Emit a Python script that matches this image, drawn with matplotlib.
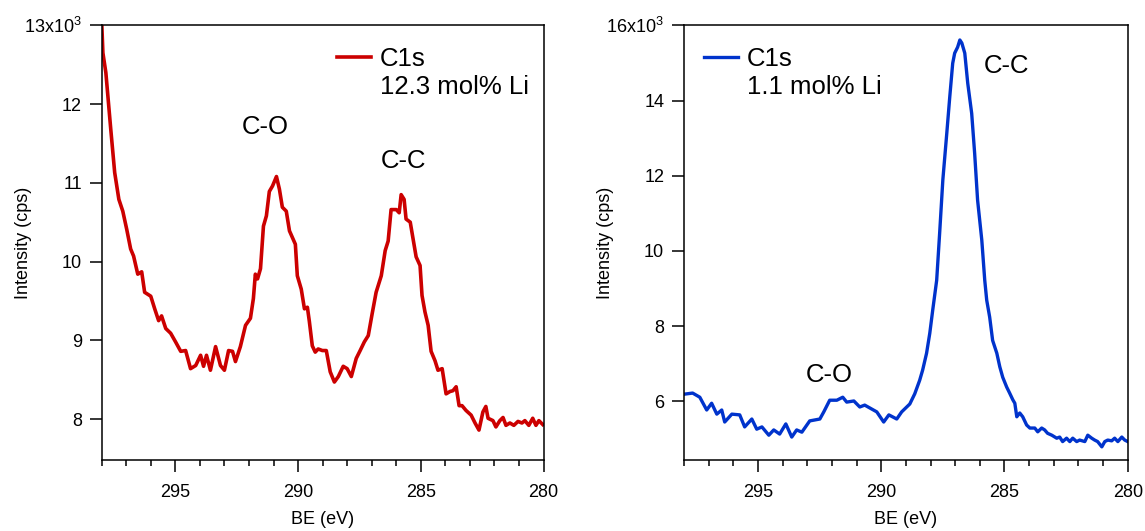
import matplotlib
matplotlib.use("Agg")
import matplotlib.pyplot as plt
from matplotlib.ticker import FixedLocator, FixedFormatter, MultipleLocator

plt.rcParams["font.family"] = ["Liberation Sans", "DejaVu Sans"]
plt.rcParams["mathtext.fontset"] = "custom"
plt.rcParams["mathtext.rm"] = "Liberation Sans"
plt.rcParams["mathtext.it"] = "Liberation Sans"
plt.rcParams["mathtext.bf"] = "Liberation Sans"

# ---- C1s spectrum, 12.3 mol% Li (binding energy in eV, intensity in 10^3 cps)
be_high_li = [
    298.00, 297.95, 297.83, 297.63, 297.47, 297.30, 297.14, 296.98, 296.82, 296.70,
    296.53, 296.37, 296.25, 296.00, 295.84, 295.68, 295.56, 295.39, 295.19, 294.99,
    294.78, 294.58, 294.38, 294.17, 293.97, 293.85, 293.73, 293.57, 293.36, 293.16,
    293.00, 292.83, 292.67, 292.55, 292.35, 292.14, 291.94, 291.82, 291.74, 291.65,
    291.53, 291.41, 291.29, 291.17, 291.04, 290.88, 290.76, 290.64, 290.48, 290.35,
    290.11, 290.03, 289.87, 289.74, 289.62, 289.54, 289.42, 289.30, 289.18, 289.01,
    288.85, 288.69, 288.52, 288.36, 288.16, 288.00, 287.83, 287.63, 287.47, 287.30,
    287.14, 286.98, 286.82, 286.61, 286.45, 286.33, 286.21, 286.00, 285.88, 285.80,
    285.68, 285.60, 285.43, 285.31, 285.19, 285.03, 284.95, 284.83, 284.70, 284.58,
    284.42, 284.30, 284.13, 283.97, 283.81, 283.69, 283.56, 283.44, 283.32, 283.16,
    282.95, 282.79, 282.63, 282.47, 282.35, 282.26, 282.06, 281.94, 281.78, 281.65,
    281.53, 281.37, 281.21, 281.04, 280.88, 280.76, 280.60, 280.44, 280.31, 280.19,
    280.03,
]
cps_high_li = [
    13.05, 12.65, 12.40, 11.68, 11.13, 10.79, 10.64, 10.41, 10.16, 10.07,
    9.84, 9.87, 9.61, 9.56, 9.40, 9.25, 9.31, 9.15, 9.09, 8.98,
    8.86, 8.87, 8.64, 8.68, 8.81, 8.67, 8.81, 8.62, 8.92, 8.68,
    8.62, 8.87, 8.86, 8.73, 8.92, 9.19, 9.28, 9.53, 9.84, 9.78,
    9.91, 10.45, 10.58, 10.89, 10.96, 11.08, 10.92, 10.69, 10.64, 10.39,
    10.22, 9.82, 9.65, 9.40, 9.42, 9.24, 8.93, 8.85, 8.89, 8.87,
    8.87, 8.60, 8.47, 8.54, 8.67, 8.64, 8.54, 8.77, 8.87, 8.98,
    9.06, 9.34, 9.61, 9.82, 10.14, 10.26, 10.66, 10.66, 10.62, 10.85,
    10.79, 10.54, 10.50, 10.28, 10.06, 9.95, 9.57, 9.36, 9.19, 8.86,
    8.74, 8.62, 8.64, 8.32, 8.35, 8.36, 8.41, 8.17, 8.17, 8.11,
    8.05, 7.95, 7.86, 8.09, 8.16, 8.01, 7.98, 7.90, 7.98, 8.02,
    7.92, 7.95, 7.92, 7.97, 7.95, 7.98, 7.92, 8.01, 7.92, 7.98,
    7.93,
]

# ---- C1s spectrum, 1.1 mol% Li
be_low_li = [
    298.00, 297.65, 297.36, 297.08, 296.88, 296.67, 296.47, 296.35, 296.06, 295.74,
    295.54, 295.25, 295.05, 294.84, 294.56, 294.36, 294.12, 293.87, 293.63, 293.43,
    293.22, 292.90, 292.49, 292.33, 292.09, 291.80, 291.56, 291.40, 291.11, 290.87,
    290.67, 290.18, 289.90, 289.69, 289.37, 289.17, 288.84, 288.64, 288.44, 288.32,
    288.16, 288.03, 287.91, 287.75, 287.63, 287.50, 287.34, 287.22, 287.10, 287.02,
    286.90, 286.81, 286.73, 286.61, 286.49, 286.33, 286.21, 286.09, 285.92, 285.80,
    285.72, 285.60, 285.48, 285.31, 285.19, 285.07, 284.91, 284.79, 284.66, 284.58,
    284.50, 284.38, 284.26, 284.10, 283.97, 283.77, 283.65, 283.49, 283.37, 283.25,
    283.08, 282.88, 282.76, 282.64, 282.48, 282.35, 282.23, 282.07, 281.95, 281.74,
    281.62, 281.46, 281.34, 281.22, 281.05, 280.93, 280.81, 280.65, 280.53, 280.40,
    280.24, 280.12, 280.00,
]
cps_low_li = [
    6.19, 6.22, 6.11, 5.77, 5.95, 5.66, 5.77, 5.45, 5.66, 5.64,
    5.32, 5.53, 5.26, 5.32, 5.10, 5.24, 5.13, 5.40, 5.05, 5.24,
    5.18, 5.48, 5.53, 5.72, 6.03, 6.03, 6.11, 5.98, 6.01, 5.85,
    5.90, 5.72, 5.45, 5.64, 5.53, 5.72, 5.93, 6.20, 6.56, 6.83,
    7.28, 7.81, 8.43, 9.22, 10.47, 11.89, 13.13, 14.09, 14.99, 15.26,
    15.42, 15.61, 15.53, 15.26, 14.46, 13.66, 12.60, 11.35, 10.29, 9.22,
    8.69, 8.24, 7.62, 7.28, 6.92, 6.64, 6.38, 6.22, 6.04, 5.95,
    5.59, 5.69, 5.59, 5.37, 5.29, 5.29, 5.19, 5.29, 5.24, 5.15,
    5.10, 5.02, 5.05, 4.93, 5.02, 4.93, 5.02, 4.93, 4.97, 4.93,
    5.10, 5.02, 4.97, 4.93, 4.79, 4.93, 4.97, 4.95, 5.02, 4.93,
    5.05, 4.97, 4.93,
]

# ---- axis ticks and labels
x_ticks = [295, 290, 285, 280]
x_tick_labels = ["295", "290", "285", "280"]
y_ticks_high = [8, 9, 10, 11, 12, 13]
y_labels_high = ["8", "9", "10", "11", "12", "13x10$^3$"]
y_ticks_low = [6, 8, 10, 12, 14, 16]
y_labels_low = ["6", "8", "10", "12", "14", "16x10$^3$"]

RED = "#CC0000"
BLUE = "#0033CC"
TICK_FS = 13
LABEL_FS = 13
BIG_FS = 18.5

fig = plt.figure(figsize=(11.45, 5.31), dpi=100)
ax1 = fig.add_axes([0.0888, 0.1337, 0.3859, 0.8186])
ax2 = fig.add_axes([0.5974, 0.1337, 0.3875, 0.8186])


def style_axes(ax, yticks, ylabels, ylim):
    ax.set_xlim(298, 280)
    ax.set_ylim(*ylim)
    ax.xaxis.set_major_locator(FixedLocator(x_ticks))
    ax.xaxis.set_major_formatter(FixedFormatter(x_tick_labels))
    ax.xaxis.set_minor_locator(MultipleLocator(1))
    ax.yaxis.set_major_locator(FixedLocator(yticks))
    ax.yaxis.set_major_formatter(FixedFormatter(ylabels))
    for sp in ax.spines.values():
        sp.set_linewidth(1.1)
        sp.set_color("black")
    ax.tick_params(axis="x", which="major", direction="out", length=8.5,
                   width=1.1, pad=9, labelsize=TICK_FS)
    ax.tick_params(axis="x", which="minor", direction="out", length=4.3, width=1.1)
    ax.tick_params(axis="y", which="major", direction="out", length=8.8,
                   width=1.1, pad=5.5, labelsize=TICK_FS)
    ax.set_xlabel("BE (eV)", fontsize=LABEL_FS)
    ax.set_ylabel("Intensity (cps)", fontsize=LABEL_FS)
    ax.xaxis.set_label_coords(0.5, -0.118)
    ax.yaxis.set_label_coords(-0.157, 0.5)


style_axes(ax1, y_ticks_high, y_labels_high, (7.48, 13.0))
style_axes(ax2, y_ticks_low, y_labels_low, (4.44, 16.0))

ax1.plot(be_high_li, cps_high_li, color=RED, lw=2.6, solid_joinstyle="round")
ax2.plot(be_low_li, cps_low_li, color=BLUE, lw=2.4, solid_joinstyle="round")

# peak assignments
ax1.text(291.35, 11.615, "C-O", fontsize=BIG_FS, ha="center", va="baseline")
ax1.text(285.72, 11.19, "C-C", fontsize=BIG_FS, ha="center", va="baseline")
ax2.text(292.10, 6.51, "C-O", fontsize=BIG_FS, ha="center", va="baseline")
ax2.text(284.91, 14.72, "C-C", fontsize=BIG_FS, ha="center", va="baseline")

# legends with a second descriptive line under the entry
legends = []
for ax, anchor_x, sample in ((ax1, 0.5326, "12.3 mol% Li"), (ax2, 0.0451, "1.1 mol% Li")):
    leg = ax.legend(["C1s"], loc="upper left", bbox_to_anchor=(anchor_x, 0.951),
                    frameon=False, fontsize=BIG_FS, borderpad=0, borderaxespad=0,
                    handlelength=1.32, handletextpad=0.36)
    legends.append((ax, leg, sample))

fig.canvas.draw()
for ax, leg, sample in legends:
    bb = leg.get_texts()[0].get_window_extent()
    x_ax = ax.transAxes.inverted().transform((bb.x0, bb.y0))[0]
    ax.text(x_ax, 0.842, sample, transform=ax.transAxes, fontsize=BIG_FS,
            ha="left", va="baseline")

fig.savefig("out.png", dpi=100)
